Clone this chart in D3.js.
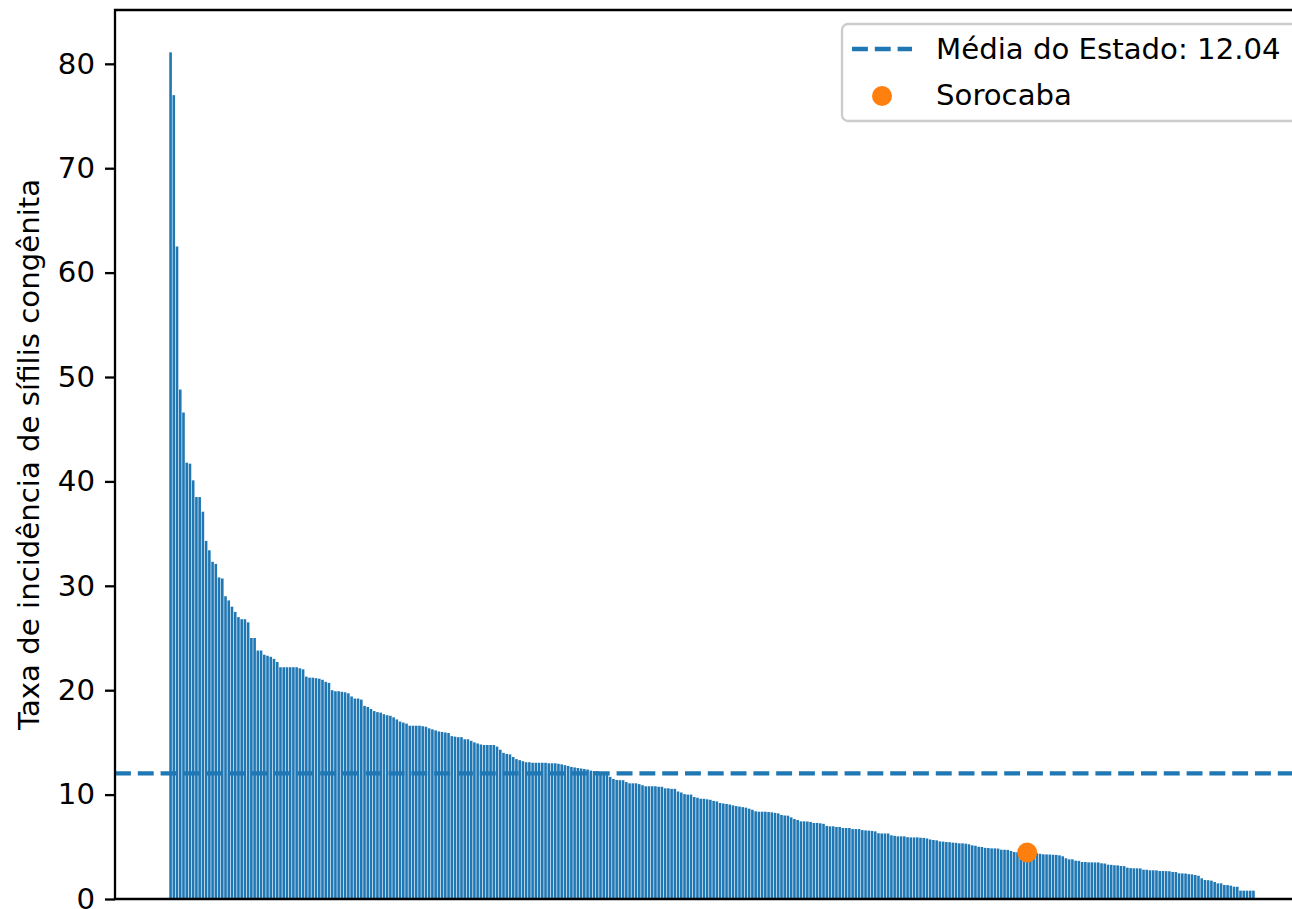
<!DOCTYPE html>
<html>
<head>
<meta charset="utf-8">
<script src="https://cdn.jsdelivr.net/npm/d3@7.9.0/dist/d3.min.js"></script>
<style>
  body { margin: 0; background: #fff; }
  svg { display: block; font-family: "DejaVu Sans", sans-serif; }
</style>
</head>
<body>
<svg id="chart" width="1292" height="909"></svg>
<script>
// taxa de incidência por município, já ordenada (maior -> menor)
const taxas = [
  81.1, 77.0, 62.5, 48.8, 46.6, 41.8, 41.7, 40.1, 38.5, 38.5,
  37.1, 34.3, 33.4, 32.3, 32.1, 30.8, 30.7, 29.0, 28.6, 28.0,
  27.5, 27.0, 26.8, 26.8, 26.5, 25.0, 25.0, 23.8, 23.8, 23.4,
  23.3, 23.2, 23.0, 22.7, 22.2, 22.2, 22.2, 22.2, 22.2, 22.2,
  22.1, 22.0, 21.3, 21.2, 21.2, 21.15, 21.1, 21.0, 20.8, 20.7,
  20.0, 19.9, 19.9, 19.85, 19.8, 19.7, 19.4, 19.2, 19.2, 19.1,
  18.5, 18.4, 18.2, 18.0, 17.9, 17.85, 17.7, 17.6, 17.55, 17.4,
  17.2, 17.0, 16.9, 16.8, 16.6, 16.6, 16.6, 16.6, 16.55, 16.5,
  16.35, 16.25, 16.15, 16.05, 16.0, 15.95, 15.9, 15.6, 15.55, 15.5,
  15.5, 15.3, 15.3, 15.15, 15.0, 14.9, 14.8, 14.75, 14.75, 14.75,
  14.75, 14.6, 14.3, 14.0, 13.9, 13.85, 13.6, 13.4, 13.3, 13.2,
  13.1, 13.1, 13.05, 13.05, 13.05, 13.05, 13.05, 13.0, 13.0, 13.0,
  12.95, 12.9, 12.82, 12.75, 12.65, 12.6, 12.55, 12.5, 12.45, 12.4,
  12.3, 12.25, 12.25, 12.0, 11.97, 11.95, 11.7, 11.5, 11.4, 11.38,
  11.38, 11.2, 11.08, 11.08, 11.08, 11.0, 10.9, 10.8, 10.8, 10.8,
  10.8, 10.75, 10.75, 10.6, 10.6, 10.55, 10.55, 10.3, 10.2, 10.05,
  10.0, 10.0, 9.77, 9.7, 9.6, 9.6, 9.55, 9.5, 9.4, 9.35,
  9.2, 9.15, 9.1, 9.05, 8.97, 8.9, 8.85, 8.8, 8.75, 8.65,
  8.55, 8.4, 8.36, 8.36, 8.36, 8.33, 8.3, 8.25, 8.2, 8.05,
  8.0, 7.98, 7.82, 7.66, 7.57, 7.44, 7.44, 7.42, 7.38, 7.28,
  7.28, 7.25, 7.2, 7.0, 6.96, 6.96, 6.9, 6.9, 6.8, 6.8,
  6.8, 6.7, 6.7, 6.7, 6.6, 6.57, 6.55, 6.52, 6.48, 6.3,
  6.28, 6.28, 6.27, 6.1, 6.05, 6.0, 6.0, 6.0, 5.92, 5.9,
  5.9, 5.9, 5.87, 5.85, 5.8, 5.7, 5.65, 5.62, 5.52, 5.5,
  5.46, 5.44, 5.4, 5.38, 5.33, 5.33, 5.3, 5.24, 5.14, 5.1,
  5.0, 4.98, 4.9, 4.88, 4.85, 4.85, 4.83, 4.72, 4.72, 4.7,
  4.6, 4.5, 4.48, 4.47, 4.46, 4.45, 4.42, 4.4, 4.38, 4.33,
  4.28, 4.27, 4.26, 4.24, 4.22, 4.18, 4.09, 3.9, 3.8, 3.8,
  3.67, 3.65, 3.54, 3.54, 3.51, 3.51, 3.5, 3.5, 3.42, 3.4,
  3.29, 3.27, 3.23, 3.22, 3.16, 3.15, 3.0, 2.96, 2.94, 2.94,
  2.93, 2.81, 2.8, 2.75, 2.75, 2.74, 2.68, 2.68, 2.67, 2.66,
  2.59, 2.58, 2.46, 2.45, 2.44, 2.38, 2.36, 2.3, 2.23, 1.98,
  1.82, 1.8, 1.76, 1.63, 1.5, 1.5, 1.34, 1.33, 1.28, 1.18,
  1.17, 0.8, 0.8, 0.8, 0.8, 0.8
];

const mediaEstado = 12.04;
const sorocabaPos = 265;          // posição de Sorocaba no ranking
const yTicks = [0, 10, 20, 30, 40, 50, 60, 70, 80];
const legendaTextos = [`Média do Estado: ${mediaEstado.toFixed(2)}`, 'Sorocaba'];

const azul = '#1f77b4';
const laranja = '#ff7f0e';
const fonte = '29.2px';

const svg = d3.select('#chart');
const plotLeft = 115, plotRight = 1309, plotTop = 10, plotBottom = 899;

// margem de 5% como no matplotlib
const n = taxas.length;
const span = (n - 1) + 0.8;
const pad = span * 0.05;
const x = d3.scaleLinear()
  .domain([-0.4 - pad, n - 0.6 + pad])
  .range([plotLeft, plotRight]);

const yMax = d3.max(taxas) * 1.05;
const y = d3.scaleLinear().domain([0, yMax]).range([plotBottom, plotTop]);

// barras
svg.append('g')
  .selectAll('rect')
  .data(taxas)
  .join('rect')
  .attr('x', (d, i) => x(i - 0.4))
  .attr('width', (d, i) => x(i + 0.4) - x(i - 0.4))
  .attr('y', d => y(d))
  .attr('height', d => y(0) - y(d))
  .attr('fill', azul);

// linha da média
svg.append('line')
  .attr('x1', plotLeft).attr('x2', plotRight)
  .attr('y1', y(mediaEstado)).attr('y2', y(mediaEstado))
  .attr('stroke', azul)
  .attr('stroke-width', 4.3)
  .attr('stroke-dasharray', '15.9,6.9');

// Sorocaba
svg.append('circle')
  .attr('cx', x(sorocabaPos))
  .attr('cy', y(taxas[sorocabaPos]))
  .attr('r', 10)
  .attr('fill', laranja);

// eixo y
const yAxis = svg.append('g')
  .attr('transform', `translate(${plotLeft},0)`)
  .call(d3.axisLeft(y).tickValues(yTicks).tickSize(10).tickPadding(10).tickFormat(d3.format('d')));
yAxis.select('.domain').remove();
yAxis.selectAll('.tick line').attr('stroke', '#000').attr('stroke-width', 2.3);
yAxis.selectAll('.tick text')
  .attr('fill', '#000')
  .style('font-size', fonte)
  .style('font-family', '"DejaVu Sans", sans-serif');

// moldura (esquerda, topo, base)
svg.append('path')
  .attr('d', `M${plotRight},${plotTop}H${plotLeft}V${plotBottom}H${plotRight}`)
  .attr('fill', 'none')
  .attr('stroke', '#000')
  .attr('stroke-width', 2.3);

// rótulo do eixo y
svg.append('text')
  .attr('transform', `translate(39,${(plotTop + plotBottom) / 2}) rotate(-90)`)
  .attr('text-anchor', 'middle')
  .style('font-size', fonte)
  .text('Taxa de incidência de sífilis congênita');

// legenda
const leg = svg.append('g');
leg.append('rect')
  .attr('x', 842).attr('y', 24)
  .attr('width', 500).attr('height', 97)
  .attr('rx', 6)
  .attr('fill', 'rgba(255,255,255,0.8)')
  .attr('stroke', '#cccccc')
  .attr('stroke-width', 2.3);

leg.append('line')
  .attr('x1', 852).attr('x2', 912)
  .attr('y1', 49).attr('y2', 49)
  .attr('stroke', azul)
  .attr('stroke-width', 4.3)
  .attr('stroke-dasharray', '15.9,6.9');

leg.append('circle')
  .attr('cx', 882).attr('cy', 96)
  .attr('r', 10)
  .attr('fill', laranja);

leg.selectAll('text')
  .data(legendaTextos)
  .join('text')
  .attr('x', 936)
  .attr('y', (d, i) => 49 + i * 46)
  .attr('dy', '0.35em')
  .style('font-size', fonte)
  .text(d => d);
</script>
</body>
</html>
